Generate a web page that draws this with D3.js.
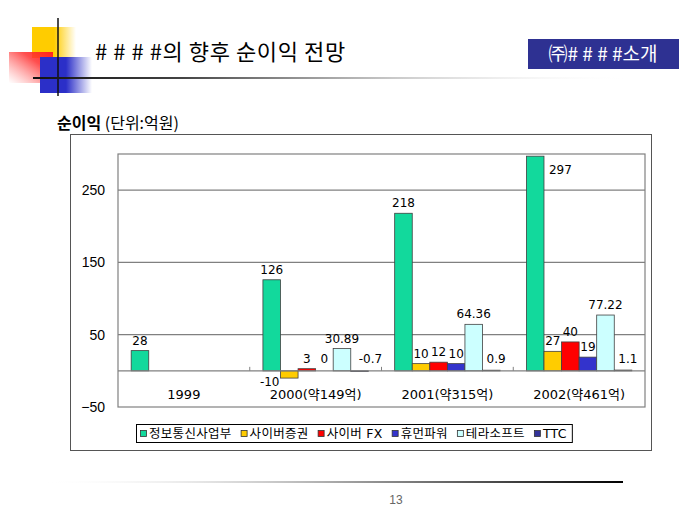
<!DOCTYPE html>
<html><head><meta charset="utf-8">
<script src="https://cdn.jsdelivr.net/npm/d3@7"></script>
<style>body{margin:0;background:#fff;}svg{display:block;}</style>
</head><body>
<svg id="c" width="680" height="510"></svg>
<script>
// ---- data ----
const categories = ["1999", "2000(약149억)", "2001(약315억)", "2002(약461억)"];
const seriesNames = ["정보통신사업부", "사이버증권", "사이버 FX", "휴먼파워", "테라소프트", "TTC"];
const infoComm   = [28, 126, 218, 297];
const cyberSec   = [null, -10, 10, 27];
const cyberFX    = [null, 3, 12, 40];
const humanPower = [null, 0, 10, 19];
const terraSoft  = [null, 30.89, 64.36, 77.22];
const ttc        = [null, -0.7, 0.9, 1.1];
const yTicks = [-50, 50, 150, 250];
const titleHash = "###";
const titleRest = "#의 향후 순이익 전망";
const badgeText = "㈜# # # #소개";
const subtitleBold = "순이익";
const subtitleRest = " (단위:억원)";
const pageNo = "13";

const seriesValues = [infoComm, cyberSec, cyberFX, humanPower, terraSoft, ttc];
const colors = ["#12D99C", "#FFCC00", "#FF0000", "#3333CC", "#CCFFFF", "#333399"];

const svg = d3.select("#c");
const defs = svg.append("defs");
function lg(id, x1, y1, x2, y2, stops) {
  const g = defs.append("linearGradient").attr("id", id)
    .attr("x1", x1).attr("y1", y1).attr("x2", x2).attr("y2", y2);
  stops.forEach(s => g.append("stop").attr("offset", s[0]).attr("stop-color", s[1]).attr("stop-opacity", s[2]));
}
lg("gYel", 0, 0, 1, 0, [[0, "#FFCC00", 1], [0.5, "#FFCC00", 1], [1, "#FFCC00", 0]]);
lg("gRed", 1, 0, 0, 1, [[0, "#FF2020", 1], [0.35, "#FF3030", 0.85], [1, "#FF7070", 0]]);
lg("gBlu", 0, 0, 1, 0, [[0, "#2B2FC8", 1], [0.5, "#2B2FC8", 1], [1, "#2B2FC8", 0]]);
lg("gHead", 0, 0, 1, 0, [[0, "#111", 1], [0.25, "#444", 1], [0.6, "#bbb", 0.8], [1, "#fff", 0]]);
lg("gFoot", 0, 0, 1, 0, [[0, "#fff", 0], [0.5, "#aaa", 1], [1, "#000", 1]]);

// ---- header decoration ----
svg.append("rect").attr("x", 32).attr("y", 27).attr("width", 44).attr("height", 31).attr("fill", "url(#gYel)");
svg.append("rect").attr("x", 9).attr("y", 52).attr("width", 44).attr("height", 31).attr("fill", "url(#gRed)");
svg.append("rect").attr("x", 40).attr("y", 57).attr("width", 52).attr("height", 36).attr("fill", "url(#gBlu)");
svg.append("line").attr("x1", 58).attr("x2", 58).attr("y1", 18).attr("y2", 96).attr("stroke", "#111").attr("stroke-width", 1.5);
svg.append("rect").attr("x", 33).attr("y", 77).attr("width", 600).attr("height", 2).attr("fill", "url(#gHead)");

const title = svg.append("text").attr("x", 95).attr("y", 60)
  .attr("font-family", "'Noto Sans CJK KR', sans-serif").attr("font-size", 22).attr("fill", "#000");
title.append("tspan").attr("letter-spacing", 6).text(titleHash);
title.append("tspan").attr("letter-spacing", 0.6).text(titleRest);

svg.append("rect").attr("x", 528).attr("y", 39).attr("width", 151).attr("height", 30).attr("fill", "#2E3192");
svg.append("text").attr("x", 603).attr("y", 61).attr("text-anchor", "middle")
  .attr("font-family", "'Noto Sans CJK KR', sans-serif").attr("font-size", 19).attr("fill", "#fff")
  .text(badgeText);

const sub = svg.append("text").attr("x", 57).attr("y", 129)
  .attr("font-family", "'Noto Sans CJK KR', sans-serif").attr("font-size", 16).attr("fill", "#000");
sub.append("tspan").attr("font-weight", "bold").text(subtitleBold);
sub.append("tspan").text(subtitleRest);

// ---- chart frame ----
svg.append("rect").attr("x", 70.5).attr("y", 134.5).attr("width", 581).attr("height", 316)
  .attr("fill", "#fff").attr("stroke", "#555").attr("stroke-width", 1);

const x0 = 118, x1 = 645, yTop = 154, yBot = 407;
const y = d3.scaleLinear().domain([-50, 300]).range([yBot, yTop]);
const xg = d3.scaleBand().domain(categories).range([x0, x1]).paddingInner(0.2).paddingOuter(0.1);
const xs = d3.scaleBand().domain(seriesNames).range([0, xg.bandwidth()]);

const plot = svg.append("g");
plot.append("rect").attr("x", x0).attr("y", yTop).attr("width", x1 - x0).attr("height", yBot - yTop)
  .attr("fill", "#fff").attr("stroke", "#808080").attr("stroke-width", 1.2);
// gridlines
plot.selectAll("line.grid").data(yTicks.filter(t => t > -50)).join("line")
  .attr("x1", x0).attr("x2", x1).attr("y1", d => y(d)).attr("y2", d => y(d))
  .attr("stroke", "#808080").attr("stroke-width", 1.2);

// y axis
const yAxis = d3.axisLeft(y).tickValues(yTicks).tickSize(0).tickPadding(13);
const ya = svg.append("g").attr("transform", `translate(${x0},0)`).call(yAxis);
ya.select(".domain").remove();
ya.selectAll("text").attr("font-family", "'Liberation Sans', Arial, sans-serif").attr("font-size", 14).attr("fill", "#000");

// bars
const rows = [];
seriesValues.forEach((arr, si) => arr.forEach((v, ci) => {
  if (v !== null) rows.push({ si, ci, v, s: seriesNames[si], c: categories[ci] });
}));
svg.append("g").selectAll("rect").data(rows).join("rect")
  .attr("x", d => xg(d.c) + xs(d.s))
  .attr("width", xs.bandwidth())
  .attr("y", d => y(Math.max(0, d.v)))
  .attr("height", d => Math.abs(y(d.v) - y(0)))
  .attr("fill", d => colors[d.si])
  .attr("stroke", "#404040").attr("stroke-width", 0.8);

// zero axis line and category ticks
svg.append("line").attr("x1", x0).attr("x2", x1).attr("y1", y(0)).attr("y2", y(0))
  .attr("stroke", "#808080").attr("stroke-width", 1.2);
const step = xg.step();
svg.append("g").selectAll("line").data(categories.slice(1)).join("line")
  .attr("x1", d => xg(d) - xg.paddingInner() * step / 2).attr("x2", d => xg(d) - xg.paddingInner() * step / 2)
  .attr("y1", y(0) - 4).attr("y2", y(0)).attr("stroke", "#808080");

// category labels
svg.append("g").selectAll("text").data(categories).join("text")
  .attr("x", d => xg(d) + xg.bandwidth() / 2).attr("y", y(0) + 28)
  .attr("text-anchor", "middle")
  .attr("font-family", "'DejaVu Sans', 'Noto Sans CJK KR', sans-serif").attr("font-size", 13).attr("fill", "#000")
  .text(d => d);

// value labels
const fmt = v => String(v);
svg.append("g").selectAll("text").data(rows).join("text")
  .each(function (d) {
    const bx = xg(d.c) + xs(d.s), bw = xs.bandwidth();
    const t = d3.select(this);
    let tx = bx + bw / 2, ty, anchor = "middle";
    const top = y(Math.max(0, d.v));
    if (d.v <= -5) {
      tx = bx - 1; ty = y(d.v) + 8; anchor = "end";
    } else {
      ty = Math.min(top - 6, y(0) - 8);
      if (ty - 12 < yTop) { tx = bx + bw + 5; ty = top + 18; anchor = "start"; }
      if (d.si === seriesNames.length - 1) { tx = bx + 4 + (d.v < 0 ? 4 : 0); anchor = "start"; }
    }
    t.attr("x", tx).attr("y", ty).attr("text-anchor", anchor);
  })
  .attr("font-family", "'DejaVu Sans', sans-serif").attr("font-size", 12).attr("fill", "#000")
  .text(d => fmt(d.v));

// legend
const lgG = svg.append("g");
const lgBox = lgG.append("rect").attr("y", 424.5).attr("height", 18).attr("x", 136.5)
  .attr("fill", "#fff").attr("stroke", "#000").attr("stroke-width", 1);
let lx = 140;
seriesNames.forEach((name, i) => {
  lgG.append("rect").attr("x", lx + 0.5).attr("y", 430.5).attr("width", 6).attr("height", 6)
    .attr("fill", colors[i]).attr("stroke", "#333").attr("stroke-width", 0.8);
  const tt = lgG.append("text").attr("x", lx + 9).attr("y", 438)
    .attr("font-family", "'DejaVu Sans', 'Noto Sans CJK KR', sans-serif").attr("font-size", 12.5)
    .attr("letter-spacing", 0.3).attr("fill", "#000")
    .text(name);
  lx = lx + 9 + tt.node().getComputedTextLength() + 9;
});
lgBox.attr("width", lx - 136 - 4);

// footer
svg.append("rect").attr("x", 40).attr("y", 481).attr("width", 583).attr("height", 2).attr("fill", "url(#gFoot)");
svg.append("text").attr("x", 396).attr("y", 504).attr("text-anchor", "middle")
  .attr("font-family", "'Liberation Sans', Arial, sans-serif").attr("font-size", 12).attr("fill", "#666")
  .text(pageNo);
</script>
</body></html>
